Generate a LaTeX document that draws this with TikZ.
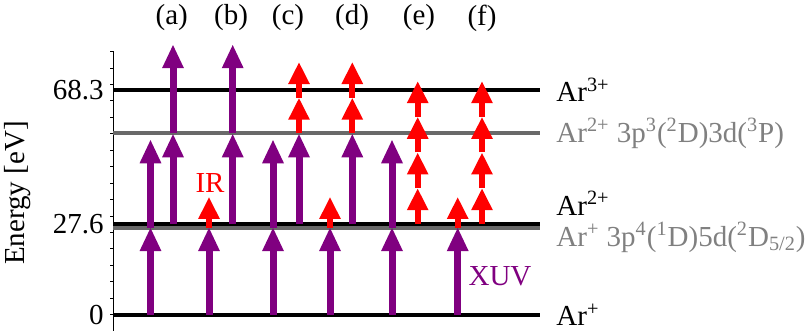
\documentclass[tikz,border=0pt]{standalone}
\usepackage{fontspec}
\setmainfont{Liberation Serif}
\usetikzlibrary{arrows.meta}

\definecolor{xuvpurple}{RGB}{128,0,128}
\definecolor{levelgray}{RGB}{105,105,105}
\definecolor{labelgray}{RGB}{128,128,128}

\begin{document}
\begin{tikzpicture}[
    x=0.5pt, y=1.645pt,
    every node/.style={font=\fontsize{14.5}{17}\selectfont, inner sep=0pt},
    level line/.style={line width=2pt},
    excited line/.style={line width=2pt, levelgray},
    xuv photon/.style={xuvpurple, line width=3.5pt, -{Triangle[length=12pt,width=10pt]}},
    ir photon/.style={red, line width=2.9pt, -{Triangle[length=11pt,width=10pt]}}
]
    \useasboundingbox (-113,-4.95) rectangle (695,95.65);

    % Energies
    \def\Eii{27.6}
    \def\Efive{26.4}
    \def\Ethree{55.1}
    \def\Eiii{68.3}
    \def\Eir{10.85}
    \def\xend{427}

    % Axis
    \draw[thin] (0,-4.95) -- (0,80);
    \foreach \e in {0,5,...,80}
        \draw[thin] (0,\e) -- (-3,\e);
    \node[anchor=east] (t0) at (-9,0) {0};
    \node[anchor=east] (tii) at (-9,\Eii) {27.6};
    \node[anchor=east] (tiii) at (-9,\Eiii) {68.3};
    \node[rotate=90] (elabel) at (-95,37) {Energy [eV]};

    % Levels
    \draw[excited line] (0,\Efive) -- (\xend,\Efive);
    \draw[excited line] (0,\Ethree) -- (\xend,\Ethree);
    \draw[level line] (0,0) -- (\xend,0);
    \draw[level line] (0,\Eii) -- (\xend,\Eii);
    \draw[level line] (0,\Eiii) -- (\xend,\Eiii);

    % Level labels
    \node[anchor=west] (arIII) at (443,\Eiii) {Ar\textsuperscript{3+}};
    \node[anchor=west, labelgray] (arIIid) at (443,\Ethree) {Ar\textsuperscript{2+} 3p\textsuperscript{3}(\textsuperscript{2}D)3d(\textsuperscript{3}P)};
    \node[anchor=west] (arII) at (443,33.8) {Ar\textsuperscript{2+}};
    \node[anchor=west, labelgray] (arIfd) at (443,23.5) {Ar\textsuperscript{+} 3p\textsuperscript{4}(\textsuperscript{1}D)5d(\textsuperscript{2}D\textsubscript{5/2})};
    \node[anchor=west] (arI) at (443,0) {Ar\textsuperscript{+}};

    % Panel labels
    \foreach \x/\name in {58.7/a, 118/b, 175/c, 239/d, 306/e, 369/f}
        \node (lab\name) at (\x,90.2) {(\name)};

    % First XUV photon in every panel
    \foreach \x in {37.5, 96, 160, 217, 279, 344.7}
        \draw[xuv photon] (\x,0) -- (\x,26.6);

    % Second XUV photon from the 5d state
    \foreach \x in {37.5, 160, 279}
        \draw[xuv photon] (\x,\Efive) -- (\x,53.3);

    % Single IR photon from the 5d state
    \foreach \x in {96, 217, 344.7}
        \draw[ir photon] (\x,26.5) -- (\x,35.8);

    % Two XUV photons from Ar2+
    \foreach \x in {60, 119.7} {
        \draw[xuv photon] (\x,\Eii) -- (\x,\Ethree);
        \draw[xuv photon] (\x,\Ethree) -- (\x,82.2);
    }

    % XUV photon, then two IR photons
    \foreach \x in {186, 239.3} {
        \draw[xuv photon] (\x,\Eii) -- (\x,\Ethree);
        \foreach \k in {0,1}
            \draw[ir photon] (\x,{\Ethree+\Eir*\k}) -- (\x,{\Ethree+\Eir*(\k+1)});
    }

    % Four IR photons from Ar2+
    \foreach \x in {304.7, 369}
        \foreach \k in {0,...,3}
            \draw[ir photon] (\x,{\Eii+\Eir*\k}) -- (\x,{\Eii+\Eir*(\k+1)});

    % Photon labels
    \node[red] (irlabel) at (97,40) {IR};
    \node[xuvpurple] (xuvlabel) at (387,11.7) {XUV};
\end{tikzpicture}
\end{document}
